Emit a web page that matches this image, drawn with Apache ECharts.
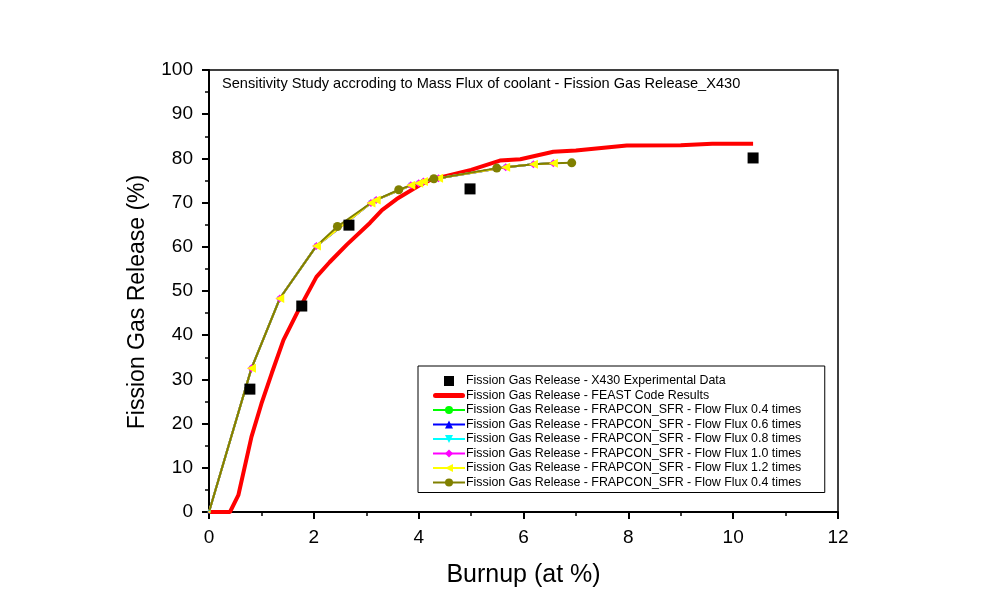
<!DOCTYPE html>
<html>
<head>
<meta charset="utf-8">
<script src="https://cdn.jsdelivr.net/npm/echarts@6/dist/echarts.min.js"></script>
<style>html,body{margin:0;padding:0;background:#fff}#c{width:984px;height:610px}</style>
</head>
<body>
<div id="c"></div>
<script>
const titleText = 'Sensitivity Study accroding to Mass Flux of coolant - Fission Gas Release_X430';
const seriesNames = [
  'Fission Gas Release - X430 Experimental Data',
  'Fission Gas Release - FEAST Code Results',
  'Fission Gas Release - FRAPCON_SFR - Flow Flux 0.4 times',
  'Fission Gas Release - FRAPCON_SFR - Flow Flux 0.6 times',
  'Fission Gas Release - FRAPCON_SFR - Flow Flux 0.8 times',
  'Fission Gas Release - FRAPCON_SFR - Flow Flux 1.0 times',
  'Fission Gas Release - FRAPCON_SFR - Flow Flux 1.2 times',
  'Fission Gas Release - FRAPCON_SFR - Flow Flux 0.4 times '
];
const expX = [0.78, 1.77, 2.67, 4.98, 10.38];
const expY = [27.8, 46.6, 64.9, 73.1, 80.1];
const feastX = [0, 0.4, 0.56, 0.81, 1.0, 1.2, 1.42, 1.7, 2.05, 2.3, 2.63, 3.07, 3.3, 3.58, 4.0, 4.22, 5.0, 5.55, 5.94, 6.57, 7.0, 7.97, 9.0, 9.6, 10.38];
const feastY = [0, 0, 3.8, 17, 24.5, 31.5, 38.9, 45.5, 53.2, 56.5, 60.5, 65.4, 68.3, 70.8, 73.8, 75.1, 77.4, 79.5, 79.8, 81.5, 81.8, 82.9, 83.0, 83.3, 83.3];
const frapX = [0, 0.81, 1.35, 2.05, 3.09, 3.19, 3.85, 4.0, 4.09, 4.38, 5.66, 6.19, 6.57];
const frapY = [0, 32.5, 48.3, 60.2, 69.9, 70.6, 73.9, 74.4, 74.8, 75.5, 78.0, 78.7, 78.9];
const oliveX = [2.45, 3.62, 4.29, 5.49, 6.92];
const oliveY = [64.6, 72.9, 75.4, 77.8, 79.0];
const xTicks = [0, 2, 4, 6, 8, 10, 12];
const yTicks = [0, 10, 20, 30, 40, 50, 60, 70, 80, 90, 100];

const FONT = 'Liberation Sans, Arial, sans-serif';
const pairs = (xs, ys) => xs.map((x, i) => [x, ys[i]]);

function frapSeries(name, color, symbol, size, rotate) {
  return {
    name, type: 'line', data: pairs(frapX, frapY).map((p, i) => i === 0 ? {value: p, symbolSize: 3} : p),
    symbol, symbolSize: size, symbolRotate: rotate || 0,
    lineStyle: {color, width: 2}, itemStyle: {color, borderWidth: 0},
    showAllSymbol: true, animation: false
  };
}

// olive: line through all points, circle markers only at its own points
const oliveAll = pairs(frapX, frapY).map(p => ({value: p, symbolSize: 0}))
  .concat(pairs(oliveX, oliveY).map(p => ({value: p, symbolSize: 9})))
  .sort((a, b) => a.value[0] - b.value[0]);

const legendData = seriesNames.map((n, i) => {
  if (i === 0) return {name: n, icon: 'path://M0,0h10v10h-10z'};
  if (i === 1) return {name: n, icon: 'path://M2.5,0h27a2.5,2.5 0 0 1 0,5h-27a2.5,2.5 0 0 1 0,-5z'};
  return {name: n};
});

const option = {
  animation: false,
  backgroundColor: '#fff',
  textStyle: {fontFamily: FONT},
  grid: {left: 209, right: 146, top: 70, bottom: 98, show: true, borderColor: '#000', borderWidth: 1.5, backgroundColor: 'transparent'},
  graphic: [{
    type: 'text', left: 222, top: 76,
    style: {text: titleText, font: '14.6px ' + FONT, fill: '#000'}
  }],
  legend: {
    orient: 'vertical', left: 418, top: 366,
    data: legendData,
    backgroundColor: '#fff', borderColor: '#000', borderWidth: 1,
    padding: [8, 20, 3, 14],
    itemWidth: 32, itemHeight: 10, itemGap: 0.5,
    textStyle: {fontSize: 12.4, lineHeight: 14, color: '#000', fontFamily: FONT, padding: [0, 0, 0, -4]},
    selectedMode: false
  },
  xAxis: {
    type: 'value', min: 0, max: 12, interval: 2,
    name: 'Burnup (at %)', nameLocation: 'middle', nameGap: 51,
    nameTextStyle: {fontSize: 25, color: '#000', fontFamily: FONT},
    axisLine: {onZero: false, lineStyle: {color: '#000', width: 2}},
    axisTick: {inside: false, length: 7, lineStyle: {color: '#000', width: 2}},
    minorTick: {show: true, splitNumber: 2, length: 4, lineStyle: {color: '#000', width: 1.5}},
    axisLabel: {fontSize: 19, color: '#000', fontFamily: FONT, margin: 16, formatter: v => xTicks.includes(v) ? String(v) : ''},
    splitLine: {show: false}
  },
  yAxis: {
    type: 'value', min: 0, max: 100, interval: 10,
    name: 'Fission Gas Release (%)', nameLocation: 'middle', nameGap: 60, nameRotate: 90,
    nameTextStyle: {fontSize: 23, color: '#000', fontFamily: FONT, padding: [0, 22, 0, 0]},
    axisLine: {onZero: false, lineStyle: {color: '#000', width: 2}},
    axisTick: {inside: false, length: 7, lineStyle: {color: '#000', width: 2}},
    minorTick: {show: true, splitNumber: 2, length: 4, lineStyle: {color: '#000', width: 1.5}},
    axisLabel: {fontSize: 19, color: '#000', fontFamily: FONT, margin: 16, formatter: v => yTicks.includes(v) ? String(v) : ''},
    splitLine: {show: false}
  },
  series: [
    {name: seriesNames[0], type: 'scatter', data: pairs(expX, expY), symbol: 'rect', symbolSize: 11, itemStyle: {color: '#000', opacity: 1}, z: 5},
    {name: seriesNames[1], type: 'line', data: pairs(feastX, feastY), symbol: 'none', lineStyle: {color: '#ff0000', width: 4}, itemStyle: {color: '#ff0000'}, z: 2},
    frapSeries(seriesNames[2], '#00ff00', 'circle', 4),
    frapSeries(seriesNames[3], '#0000ff', 'triangle', 4),
    frapSeries(seriesNames[4], '#00ffff', 'triangle', 5, 180),
    frapSeries(seriesNames[5], '#ff00ff', 'diamond', 8),
    frapSeries(seriesNames[6], '#ffff00', 'triangle', 9, 90),
    {name: seriesNames[7], type: 'line', data: oliveAll, symbol: 'circle', symbolSize: 9, showAllSymbol: true,
     lineStyle: {color: '#808000', width: 2}, itemStyle: {color: '#808000'}, z: 3}
  ]
};
const chart = echarts.init(document.getElementById('c'), null, {renderer: 'canvas'});
chart.setOption(option);
</script>
</body>
</html>
